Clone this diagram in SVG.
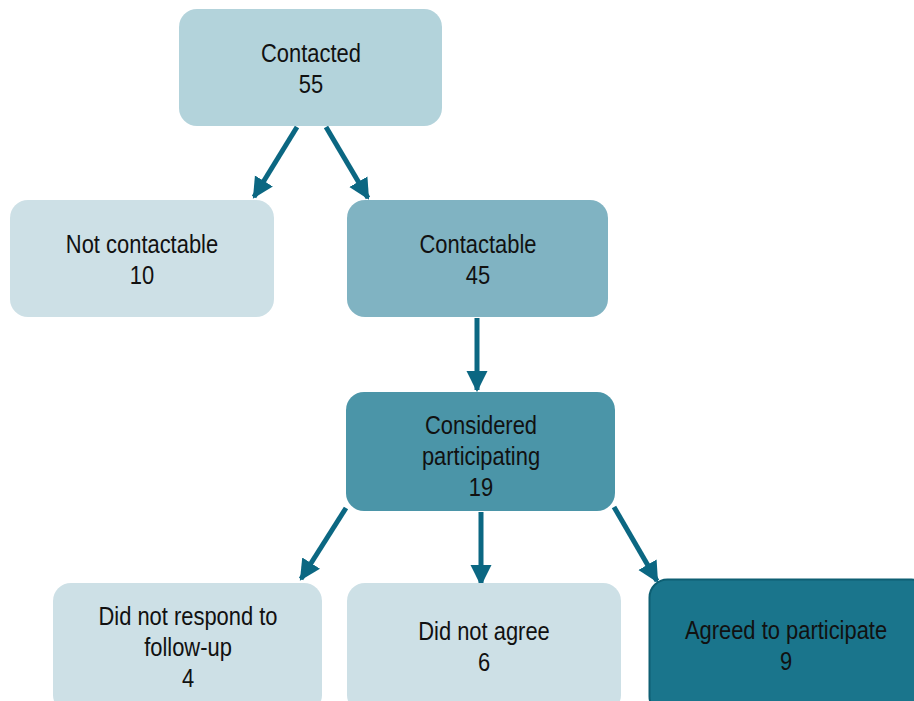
<svg xmlns="http://www.w3.org/2000/svg" width="914" height="701" viewBox="0 0 914 701">
<style>
text{font-family:"Liberation Sans",Arial,sans-serif;font-size:25.5px;fill:#111;text-anchor:middle}
.c{stroke:#0b6782;stroke-width:5;fill:none;marker-end:url(#ah)}
</style>
<defs>
<marker id="ah" viewBox="0 0 10 10" refX="9" refY="5" markerWidth="4.2" markerHeight="4.6" orient="auto" markerUnits="strokeWidth">
<path d="M0,0 L10,5 L0,10 Z" fill="#0b6782"/>
</marker>
</defs>
<rect width="914" height="701" fill="#fff"/>
<g id="connectors">
<line class="c" x1="297" y1="127" x2="254" y2="197"/>
<line class="c" x1="326" y1="127" x2="368" y2="198"/>
<line class="c" x1="477" y1="318" x2="477" y2="390"/>
<line class="c" x1="346" y1="508" x2="301" y2="579"/>
<line class="c" x1="481" y1="512" x2="481" y2="584"/>
<line class="c" x1="614" y1="507" x2="657" y2="581"/>
</g>
<g id="contacted">
<rect x="179" y="9" width="263" height="117" rx="18" fill="#b3d3db"/>
<text transform="translate(311,62) scale(0.86,1)">Contacted</text>
<text transform="translate(311,93) scale(0.86,1)">55</text>
</g>
<g id="not-contactable">
<rect x="10" y="200" width="264" height="117" rx="18" fill="#cde0e6"/>
<text transform="translate(142,253) scale(0.86,1)">Not contactable</text>
<text transform="translate(142,284) scale(0.86,1)">10</text>
</g>
<g id="contactable">
<rect x="347" y="200" width="261" height="117" rx="18" fill="#80b3c2"/>
<text transform="translate(478,253) scale(0.86,1)">Contactable</text>
<text transform="translate(478,284) scale(0.86,1)">45</text>
</g>
<g id="considered">
<rect x="346" y="392" width="269" height="119" rx="18" fill="#4b95a8"/>
<text transform="translate(481,434) scale(0.86,1)">Considered</text>
<text transform="translate(481,465) scale(0.86,1)">participating</text>
<text transform="translate(481,496) scale(0.86,1)">19</text>
</g>
<g id="did-not-respond">
<rect x="53" y="583" width="269" height="130" rx="18" fill="#cde0e6"/>
<text transform="translate(188,625) scale(0.86,1)">Did not respond to</text>
<text transform="translate(188,656) scale(0.86,1)">follow-up</text>
<text transform="translate(188,687) scale(0.86,1)">4</text>
</g>
<g id="did-not-agree">
<rect x="347" y="583" width="274" height="130" rx="18" fill="#cde0e6"/>
<text transform="translate(484,640) scale(0.86,1)">Did not agree</text>
<text transform="translate(484,671) scale(0.86,1)">6</text>
</g>
<g id="agreed">
<rect x="649.5" y="579.5" width="280" height="135" rx="18" fill="#1a758c" stroke="#0e5f73" stroke-width="2"/>
<text transform="translate(786,639) scale(0.86,1)">Agreed to participate</text>
<text transform="translate(786,670) scale(0.86,1)">9</text>
</g>
</svg>
